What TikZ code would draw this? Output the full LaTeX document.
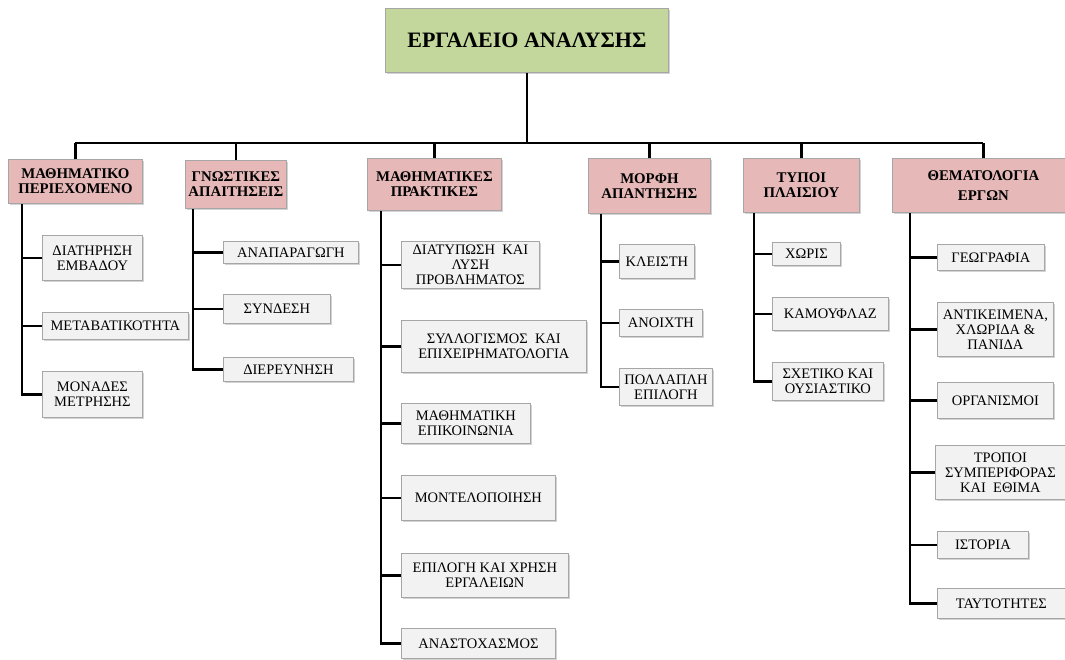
\documentclass[tikz,border=0pt]{standalone}
\usepackage{fontspec}
\setmainfont{Liberation Serif}
\usepackage{xcolor}
\definecolor{RootFill}{HTML}{C3D69B}
\definecolor{CatFill}{HTML}{E6B9B8}
\definecolor{LeafFill}{HTML}{F2F2F2}
\definecolor{BoxBorder}{HTML}{A6A6A6}
\usepackage{tikz}
\usetikzlibrary{positioning, calc, shadows}

\begin{document}
\begin{tikzpicture}[x=1pt, y=-1pt,
  box/.style={rectangle, draw=BoxBorder, line width=0.8pt, anchor=north west,
              align=center, inner sep=1pt,
              drop shadow={shadow xshift=1.5pt, shadow yshift=-2pt, opacity=0.35, fill=gray}},
  rootbox/.style={box, fill=RootFill, font=\fontsize{22}{24}\selectfont\bfseries},
  cat/.style={box, fill=CatFill, font=\fontsize{14.8}{15}\selectfont\bfseries},
  leaf/.style={box, fill=LeafFill, font=\fontsize{14.5}{15}\selectfont},
  link/.style={line width=2.6pt, color=black}
]
\useasboundingbox (0,0) rectangle (1065,659);

%% ---- Root ----
\node[rootbox, minimum width=283pt, minimum height=64pt] (root) at (385,8) {ΕΡΓΑΛΕΙΟ ΑΝΑΛΥΣΗΣ};

%% ---- Row 1: categories ----
\node[cat, minimum width=134pt, minimum height=44pt] (mp)  at (8,159)   {ΜΑΘΗΜΑΤΙΚΟ\\ΠΕΡΙΕΧΟΜΕΝΟ};
\node[cat, minimum width=101pt, minimum height=48pt] (ga)  at (185,160) {ΓΝΩΣΤΙΚΕΣ\\ΑΠΑΙΤΗΣΕΙΣ};
\node[cat, minimum width=134pt, minimum height=52pt] (mpr) at (367,158) {ΜΑΘΗΜΑΤΙΚΕΣ\\ΠΡΑΚΤΙΚΕΣ};
\node[cat, minimum width=122pt, minimum height=55pt] (ma)  at (588,158) {ΜΟΡΦΗ\\ΑΠΑΝΤΗΣΗΣ};
\node[cat, minimum width=116pt, minimum height=54pt] (tp)  at (743,158) {ΤΥΠΟΙ\\ΠΛΑΙΣΙΟΥ};
\node[cat, minimum width=182pt, minimum height=54pt, font=\fontsize{14.8}{20}\selectfont\bfseries]
                                                     (te)  at (892,158) {ΘΕΜΑΤΟΛΟΓΙΑ\\ΕΡΓΩΝ};

%% ---- Leaves: ΜΑΘΗΜΑΤΙΚΟ ΠΕΡΙΕΧΟΜΕΝΟ ----
\node[leaf, minimum width=100pt, minimum height=45pt] (mp1) at (42,235) {ΔΙΑΤΗΡΗΣΗ\\ΕΜΒΑΔΟΥ};
\node[leaf, minimum width=146pt, minimum height=27pt] (mp2) at (42,312) {ΜΕΤΑΒΑΤΙΚΟΤΗΤΑ};
\node[leaf, minimum width=100pt, minimum height=46pt] (mp3) at (42,371) {ΜΟΝΑΔΕΣ\\ΜΕΤΡΗΣΗΣ};

%% ---- Leaves: ΓΝΩΣΤΙΚΕΣ ΑΠΑΙΤΗΣΕΙΣ ----
\node[leaf, minimum width=135pt, minimum height=22pt] (ga1) at (223,241) {ΑΝΑΠΑΡΑΓΩΓΗ};
\node[leaf, minimum width=107pt, minimum height=29pt] (ga2) at (223,294) {ΣΥΝΔΕΣΗ};
\node[leaf, minimum width=130pt, minimum height=24pt] (ga3) at (223,357) {ΔΙΕΡΕΥΝΗΣΗ};

%% ---- Leaves: ΜΑΘΗΜΑΤΙΚΕΣ ΠΡΑΚΤΙΚΕΣ ----
\node[leaf, minimum width=138pt, minimum height=47pt] (mpr1) at (401,241) {ΔΙΑΤΥΠΩΣΗ \ ΚΑΙ\\ΛΥΣΗ\\ΠΡΟΒΛΗΜΑΤΟΣ};
\node[leaf, minimum width=185pt, minimum height=52pt] (mpr2) at (401,320) {ΣΥΛΛΟΓΙΣΜΟΣ \ ΚΑΙ\\ΕΠΙΧΕΙΡΗΜΑΤΟΛΟΓΙΑ};
\node[leaf, minimum width=129pt, minimum height=40pt] (mpr3) at (401,403) {ΜΑΘΗΜΑΤΙΚΗ\\ΕΠΙΚΟΙΝΩΝΙΑ};
\node[leaf, minimum width=154pt, minimum height=45pt] (mpr4) at (401,475) {ΜΟΝΤΕΛΟΠΟΙΗΣΗ};
\node[leaf, minimum width=167pt, minimum height=44pt] (mpr5) at (401,553) {ΕΠΙΛΟΓΗ ΚΑΙ ΧΡΗΣΗ\\ΕΡΓΑΛΕΙΩΝ};
\node[leaf, minimum width=154pt, minimum height=30pt] (mpr6) at (401,628) {ΑΝΑΣΤΟΧΑΣΜΟΣ};

%% ---- Leaves: ΜΟΡΦΗ ΑΠΑΝΤΗΣΗΣ ----
\node[leaf, minimum width=75pt, minimum height=34pt] (ma1) at (619,244) {ΚΛΕΙΣΤΗ};
\node[leaf, minimum width=83pt, minimum height=27pt] (ma2) at (619,309) {ΑΝΟΙΧΤΗ};
\node[leaf, minimum width=93pt, minimum height=37pt] (ma3) at (619,368) {ΠΟΛΛΑΠΛΗ\\ΕΠΙΛΟΓΗ};

%% ---- Leaves: ΤΥΠΟΙ ΠΛΑΙΣΙΟΥ ----
\node[leaf, minimum width=68pt,  minimum height=23pt] (tp1) at (772,242) {ΧΩΡΙΣ};
\node[leaf, minimum width=116pt, minimum height=33pt] (tp2) at (772,297) {ΚΑΜΟΥΦΛΑΖ};
\node[leaf, minimum width=111pt, minimum height=38pt] (tp3) at (772,362) {ΣΧΕΤΙΚΟ ΚΑΙ\\ΟΥΣΙΑΣΤΙΚΟ};

%% ---- Leaves: ΘΕΜΑΤΟΛΟΓΙΑ ΕΡΓΩΝ ----
\node[leaf, minimum width=107pt, minimum height=26pt] (te1) at (937,244) {ΓΕΩΓΡΑΦΙΑ};
\node[leaf, minimum width=116pt, minimum height=54pt] (te2) at (937,302) {ΑΝΤΙΚΕΙΜΕΝΑ,\\ΧΛΩΡΙΔΑ \&\\ΠΑΝΙΔΑ};
\node[leaf, minimum width=116pt, minimum height=36pt] (te3) at (937,382) {ΟΡΓΑΝΙΣΜΟΙ};
\node[leaf, minimum width=130pt, minimum height=54pt] (te4) at (935,445) {ΤΡΟΠΟΙ\\ΣΥΜΠΕΡΙΦΟΡΑΣ\\ΚΑΙ \ ΕΘΙΜΑ};
\node[leaf, minimum width=91pt,  minimum height=27pt] (te5) at (937,531) {ΙΣΤΟΡΙΑ};
\node[leaf, minimum width=128pt, minimum height=30pt] (te6) at (937,588) {ΤΑΥΤΟΤΗΤΕΣ};

%% ---- Bus from root to categories ----
\coordinate (bus) at (0,143);
\draw[link] (root.south) -- (root.south |- bus);
\draw[link] (mp.north |- bus) -- (te.north |- bus);
\foreach \c in {mp, ga, mpr, ma, tp, te}
  \draw[link] (\c.north) -- (\c.north |- bus);

%% ---- Spines under each category ----
\coordinate (s1) at ([xshift=14pt]mp.south west);
\coordinate (s2) at ([xshift=8pt]ga.south west);
\coordinate (s3) at ([xshift=14pt]mpr.south west);
\coordinate (s4) at ([xshift=13pt]ma.south west);
\coordinate (s5) at ([xshift=11pt]tp.south west);
\coordinate (s6) at ([xshift=18pt]te.south west);

\draw[link] (s1) |- (mp3.west);
\foreach \l in {mp1, mp2} \draw[link] (\l.west) -- (\l.west -| s1);
\draw[link] (s2) |- (ga3.west);
\foreach \l in {ga1, ga2} \draw[link] (\l.west) -- (\l.west -| s2);
\draw[link] (s3) |- (mpr6.west);
\foreach \l in {mpr1, mpr2, mpr3, mpr4, mpr5} \draw[link] (\l.west) -- (\l.west -| s3);
\draw[link] (s4) |- (ma3.west);
\foreach \l in {ma1, ma2} \draw[link] (\l.west) -- (\l.west -| s4);
\draw[link] (s5) |- (tp3.west);
\foreach \l in {tp1, tp2} \draw[link] (\l.west) -- (\l.west -| s5);
\draw[link] (s6) |- (te6.west);
\foreach \l in {te1, te2, te3, te4, te5} \draw[link] (\l.west) -- (\l.west -| s6);

\end{tikzpicture}
\end{document}
